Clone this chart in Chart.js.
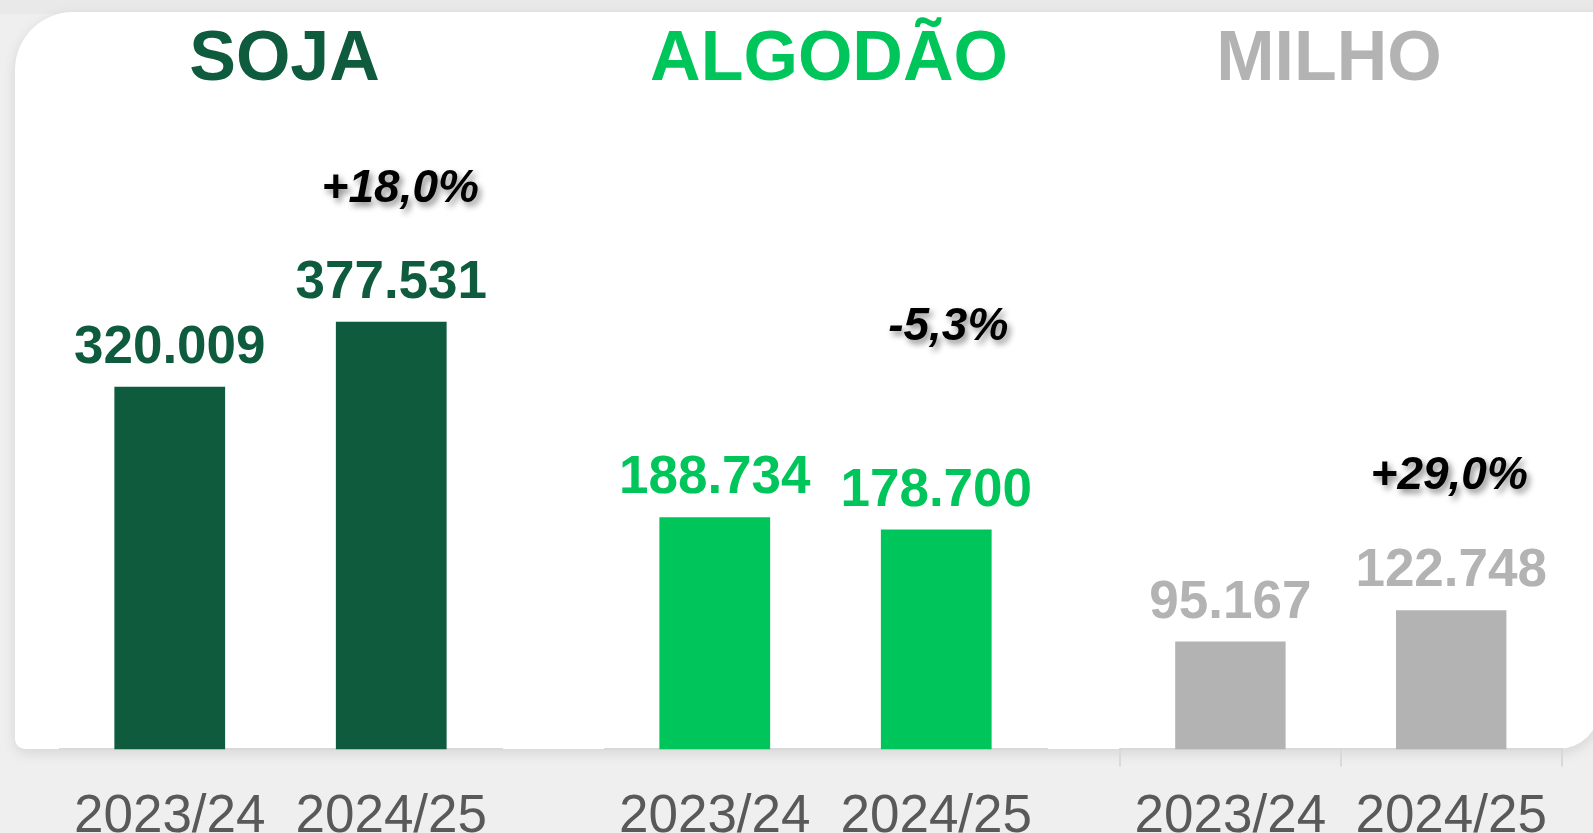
<!DOCTYPE html>
<html>
<head>
<meta charset="utf-8">
<script src="https://cdn.jsdelivr.net/npm/chart.js@4.4.1/dist/chart.umd.min.js"></script>
<style>
  html, body { margin:0; padding:0; width:1593px; height:833px; overflow:hidden; background:#efefef; }
  #topStrip { position:absolute; left:0; top:0; width:1593px; height:14px; background:#e9e9e9; }
  #card { position:absolute; left:15px; top:12px; width:1585px; height:737px; background:#ffffff;
          border-radius:58px 0 42px 10px; box-shadow:0 4px 14px rgba(0,0,0,0.11); }
  canvas { position:absolute; top:0; }
</style>
</head>
<body>
<div id="topStrip"></div>
<div id="card"></div>
<canvas id="cSoja" width="451" height="849" style="left:59px"></canvas>
<canvas id="cAlgodao" width="450" height="849" style="left:604px"></canvas>
<canvas id="cMilho" width="474" height="868" style="left:1092px"></canvas>
<script>
// ---- data ----
const seasons = ['2023/24', '2024/25'];
const crops = ['SOJA', 'ALGODÃO', 'MILHO'];
const sojaValues = [320009, 377531];
const algodaoValues = [188734, 178700];
const milhoValues = [95167, 122748];
const changeLabels = ['+18,0%', '-5,3%', '+29,0%'];

const FONT = '"Liberation Sans", Arial, sans-serif';

function fmtBR(v) {
  return String(v).replace(/\B(?=(\d{3})+(?!\d))/g, '.');
}

const labelPlugin = {
  id: 'barLabels',
  afterDatasetsDraw(chart, args, opts) {
    const ctx = chart.ctx;
    const meta = chart.getDatasetMeta(0);
    const vals = chart.data.datasets[0].data;
    ctx.save();
    ctx.font = 'bold 53px ' + FONT;
    ctx.fillStyle = opts.color;
    ctx.textAlign = 'center';
    ctx.textBaseline = 'alphabetic';
    meta.data.forEach((bar, i) => {
      ctx.fillText(fmtBR(vals[i]), bar.x, bar.y - opts.gap);
    });
    const last = meta.data[meta.data.length - 1];
    ctx.font = 'italic bold 46px ' + FONT;
    ctx.fillStyle = '#000000';
    ctx.shadowColor = 'rgba(0,0,0,0.45)';
    ctx.shadowBlur = 6;
    ctx.shadowOffsetX = 3;
    ctx.shadowOffsetY = 4;
    ctx.fillText(opts.pct, last.x + opts.shift, last.y - opts.lift);
    ctx.restore();
  }
};

const panels = [
  { id:'cSoja', title:crops[0], values:sojaValues, pct:changeLabels[0], color:'#0e5c3d',
    yMax:555500, side:'right', sideW:8, lift:120, shift:9, showTicks:false },
  { id:'cAlgodao', title:crops[1], values:algodaoValues, pct:changeLabels[1], color:'#00c55a',
    yMax:511500, side:'right', sideW:7, lift:190, shift:12, showTicks:false },
  { id:'cMilho', title:crops[2], values:milhoValues, pct:changeLabels[2], color:'#b3b3b3',
    yMax:555500, side:'left', sideW:28, lift:121, shift:-2, showTicks:true }
];

panels.forEach(p => {
  new Chart(document.getElementById(p.id), {
    type: 'bar',
    data: {
      labels: seasons,
      datasets: [{
        data: p.values,
        backgroundColor: p.color,
        borderWidth: 0,
        barPercentage: 0.5,
        categoryPercentage: 1.0
      }]
    },
    options: {
      responsive: false,
      animation: false,
      events: [],
      layout: { padding: 0 },
      plugins: {
        legend: { display: false },
        tooltip: { enabled: false },
        title: {
          display: true,
          text: p.title,
          color: p.color,
          font: { family: FONT, size: 70, weight: 'bold' },
          padding: { top: 19, bottom: 17 }
        },
        barLabels: { color: p.color, gap: 24, pct: p.pct, lift: p.lift, shift: p.shift }
      },
      scales: {
        x: {
          position: 'bottom',
          offset: true,
          grid: {
            display: true,
            drawOnChartArea: false,
            drawTicks: true,
            offset: true,
            tickLength: p.showTicks ? 17 : 36,
            color: p.showTicks ? '#d9d9d9' : 'rgba(0,0,0,0)',
            lineWidth: 2
          },
          border: { display: true, color: '#d9d9d9', width: 2 },
          ticks: {
            color: '#595959',
            font: { family: FONT, size: 53 },
            padding: p.showTicks ? 19 : 0,
            maxRotation: 0,
            autoSkip: false
          }
        },
        y: {
          position: p.side,
          min: 0,
          max: p.yMax,
          ticks: { display: false },
          grid: { display: false },
          border: { display: false },
          afterFit: (s) => { s.width = p.sideW; }
        }
      }
    },
    plugins: [labelPlugin]
  });
});
</script>
</body>
</html>
